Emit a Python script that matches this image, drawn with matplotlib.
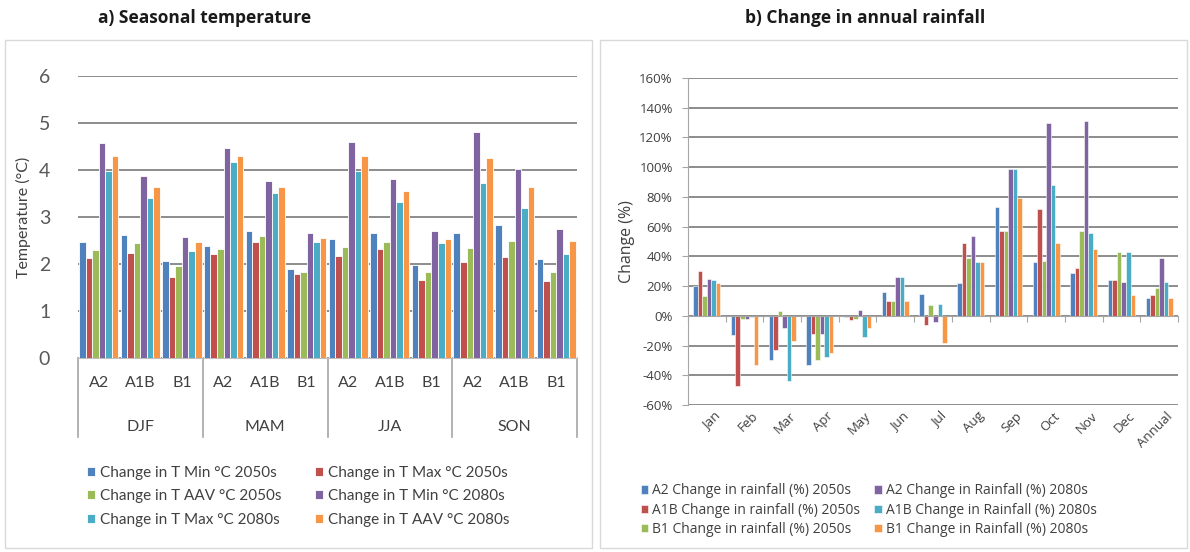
import matplotlib.pyplot as plt
import numpy as np
from matplotlib.patches import Rectangle
from matplotlib.transforms import blended_transform_factory

plt.rcParams['font.family'] = ['Lato', 'DejaVu Sans']
wide = ['Open Sans', 'DejaVu Sans']

# ---- data: a) seasonal temperature ----
seasons = ['DJF', 'MAM', 'JJA', 'SON']
scenarios = ['A2', 'A1B', 'B1']
temp_labels = ['Change in T Min \u00b0C 2050s', 'Change in T Max \u00b0C 2050s',
               'Change in T AAV \u00b0C 2050s', 'Change in T Min \u00b0C 2080s',
               'Change in T Max \u00b0C 2080s', 'Change in T AAV \u00b0C 2080s']
# order: DJF A2, A1B, B1, MAM A2, A1B, B1, JJA ..., SON ...
tmin_2050 = [2.47, 2.62, 2.07, 2.38, 2.71, 1.90, 2.53, 2.66, 1.98, 2.66, 2.83, 2.10]
tmax_2050 = [2.13, 2.24, 1.73, 2.22, 2.46, 1.78, 2.16, 2.31, 1.66, 2.05, 2.14, 1.63]
taav_2050 = [2.29, 2.44, 1.95, 2.32, 2.60, 1.82, 2.36, 2.47, 1.84, 2.35, 2.50, 1.84]
tmin_2080 = [4.58, 3.87, 2.58, 4.47, 3.77, 2.65, 4.60, 3.81, 2.70, 4.80, 4.02, 2.75]
tmax_2080 = [3.97, 3.41, 2.28, 4.16, 3.52, 2.46, 3.97, 3.31, 2.44, 3.73, 3.20, 2.22]
taav_2080 = [4.30, 3.64, 2.46, 4.30, 3.64, 2.56, 4.30, 3.56, 2.54, 4.26, 3.63, 2.50]

# ---- data: b) change in annual rainfall (%) ----
months = ['Jan', 'Feb', 'Mar', 'Apr', 'May', 'Jun', 'Jul', 'Aug', 'Sep', 'Oct',
          'Nov', 'Dec', 'Annual']
rain_labels = ['A2 Change in rainfall (%) 2050s', 'A1B Change in rainfall (%) 2050s',
               'B1 Change in rainfall (%) 2050s', 'A2 Change in Rainfall (%) 2080s',
               'A1B Change in Rainfall (%) 2080s', 'B1 Change in Rainfall (%) 2080s']
a2_2050 = [20, -13, -30, -33, -1, 16, 15, 22, 73, 36, 29, 24, 12]
a1b_2050 = [30, -47, -23, -12, -3, 10, -6, 49, 57, 72, 32, 24, 14]
b1_2050 = [13, -2, 3, -30, -2, 10, 7, 39, 57, 37, 57, 43, 19]
a2_2080 = [25, -2, -8, -12, 4, 26, -4, 54, 99, 130, 131, 23, 39]
a1b_2080 = [24, -1, -44, -28, -14, 26, 8, 36, 99, 88, 56, 43, 23]
b1_2080 = [22, -33, -17, -25, -8, 10, -18, 36, 79, 49, 45, 14, 12]

colors = ['#4F81BD', '#C0504D', '#9BBB59', '#8064A2', '#4BACC6', '#F79646']
grid_c = '#8c8c8c'
txt_c = '#404040'

fig = plt.figure(figsize=(11.9, 5.52), dpi=100)

# panel frames and titles
for x0 in [5 / 1190, 600 / 1190]:
    fig.add_artist(Rectangle((x0, 4 / 552), 587 / 1190, 508 / 552, transform=fig.transFigure,
                             facecolor='none', edgecolor='#d9d9d9', lw=1))
fig.text(205 / 1190, 1 - 18 / 552, 'a) Seasonal temperature', ha='center', va='center',
         fontsize=12.5, fontweight='bold', family=wide, color='#1a1a1a')
fig.text(865 / 1190, 1 - 18 / 552, 'b) Change in annual rainfall', ha='center', va='center',
         fontsize=12.5, fontweight='bold', family=wide, color='#1a1a1a')

# ---------------- a) ----------------
ax1 = fig.add_axes([78 / 1190, 1 - 358 / 552, 499 / 1190, 282 / 552])
temp_series = [tmin_2050, tmax_2050, taav_2050, tmin_2080, tmax_2080, taav_2080]
x = np.arange(len(tmin_2050))
w = 0.157
bars1 = []
for i, vals in enumerate(temp_series):
    b = ax1.bar(x + (i - 2.5) * w, vals, width=w, color=colors[i], edgecolor='white',
                linewidth=0.6, label=temp_labels[i], zorder=3)
    bars1.append(b)
ax1.set_xlim(-0.5, len(x) - 0.5)
ax1.set_ylim(0, 6)
ax1.set_yticks(range(0, 7))
ax1.tick_params(axis='y', length=0, labelsize=14, labelcolor='#595959', pad=20)
ax1.set_xticks([])
ax1.yaxis.grid(True, color=grid_c, lw=1.4)
ax1.set_axisbelow(True)
for s in ['left', 'right', 'top']:
    ax1.spines[s].set_visible(False)
ax1.spines['bottom'].set_color('#bfbfbf')
ax1.set_ylabel('Temperature (\u00b0C)', fontsize=11.5, color=txt_c, labelpad=6)

tr = blended_transform_factory(ax1.transData, ax1.transAxes)
for k in range(len(seasons) + 1):
    ax1.plot([k * 3 - 0.5, k * 3 - 0.5], [0, -0.28], transform=tr, color='#a6a6a6',
             lw=1.2, clip_on=False)
for j in range(len(x)):
    ax1.text(j, -0.09, scenarios[j % 3], transform=tr, ha='center', va='center',
             fontsize=11.5, color=txt_c)
for k, s in enumerate(seasons):
    ax1.text(k * 3 + 1, -0.245, s, transform=tr, ha='center', va='center',
             fontsize=11.5, color=txt_c)

order1 = [0, 2, 4, 1, 3, 5]
fig.legend([bars1[i] for i in order1], [temp_labels[i] for i in order1], ncol=2,
           loc='upper left', bbox_to_anchor=(73 / 1190, 1 - 452 / 552), frameon=False,
           fontsize=11, handlelength=0.55, handleheight=0.55, handletextpad=0.3,
           columnspacing=2.2, labelspacing=0.62, labelcolor=txt_c)

# ---------------- b) ----------------
ax2 = fig.add_axes([688 / 1190, 1 - 405 / 552, 490 / 1190, 327 / 552])
rain_series = [a2_2050, a1b_2050, b1_2050, a2_2080, a1b_2080, b1_2080]
xm = np.arange(len(months))
w2 = 0.12
bars2 = []
for i, vals in enumerate(rain_series):
    b = ax2.bar(xm + (i - 2.5) * w2, vals, width=w2, color=colors[i], edgecolor='white',
                linewidth=0.4, label=rain_labels[i], zorder=3)
    bars2.append(b)
ax2.set_xlim(-0.5, len(months) - 0.5)
ax2.set_ylim(-60, 160)
ax2.set_yticks(range(-60, 161, 20))
ax2.set_yticklabels(['%d%%' % v for v in range(-60, 161, 20)], family=wide)
ax2.tick_params(axis='y', length=4, labelsize=9.5, labelcolor=txt_c, color='#a6a6a6', pad=7)
ax2.yaxis.grid(True, color=grid_c, lw=1.4)
ax2.set_axisbelow(True)
for s in ['right', 'top']:
    ax2.spines[s].set_visible(False)
ax2.spines['left'].set_color('#a6a6a6')
ax2.spines['bottom'].set_position(('data', 0))
ax2.spines['bottom'].set_color('#a6a6a6')
ax2.spines['bottom'].set_zorder(4)
ax2.set_xticks(np.arange(len(months) + 1) - 0.5)
ax2.set_xticklabels([])
ax2.tick_params(axis='x', length=4, color='#a6a6a6')
ax2.set_ylabel('Change (%)', fontsize=11.5, color=txt_c, labelpad=3, family=wide)
for j, m in enumerate(months):
    ax2.text(j + 0.18, -63, m, ha='right', va='top', rotation=45, rotation_mode='anchor',
             fontsize=9.5, color=txt_c, family=wide)

fig.legend(bars2, rain_labels, ncol=2, loc='upper left',
           bbox_to_anchor=(628 / 1190, 1 - 471 / 552), frameon=False,
           prop={'family': wide, 'size': 10}, handlelength=0.55, handleheight=0.55,
           handletextpad=0.3, columnspacing=1.0, labelspacing=0.3, labelcolor=txt_c)

fig.savefig('out.png', dpi=100, facecolor='white')
